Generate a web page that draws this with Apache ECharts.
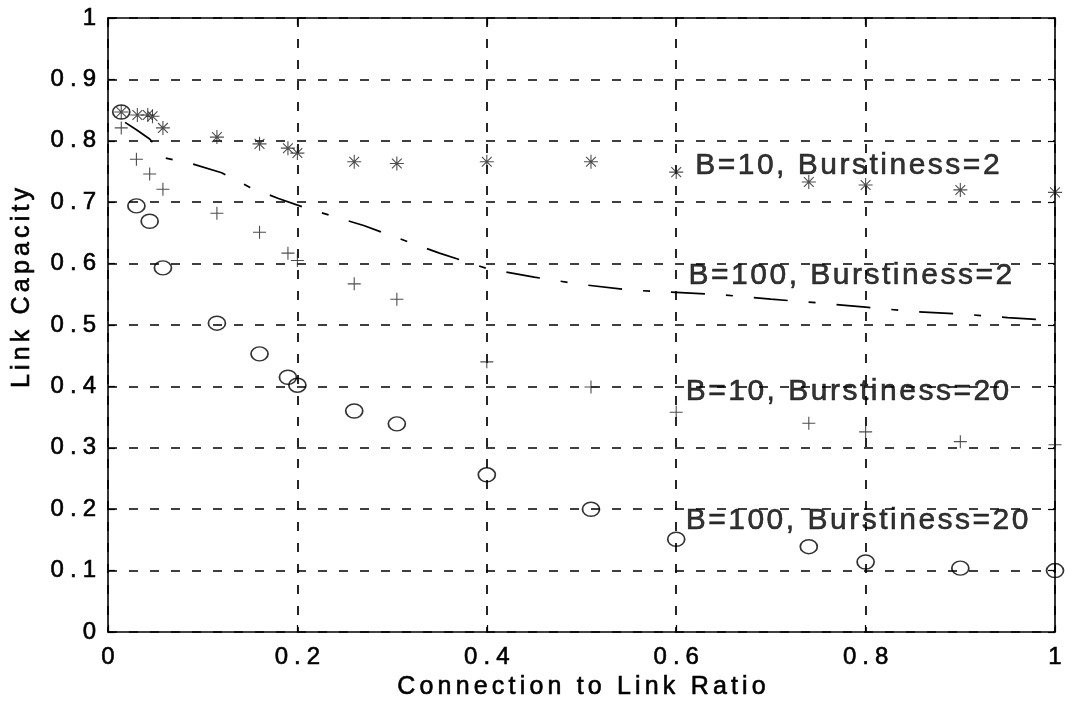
<!DOCTYPE html>
<html>
<head>
<meta charset="utf-8">
<script src="https://cdn.jsdelivr.net/npm/echarts@6/dist/echarts.min.js"></script>
<style>html,body{margin:0;padding:0;background:#fff;}#chart{width:1065px;height:710px;}</style>
</head>
<body>
<div id="chart"></div>
<script>
// ---- data ----
const xTickLabels = ['0', '0.2', '0.4', '0.6', '0.8', '1'];
const yTickLabels = ['0', '0.1', '0.2', '0.3', '0.4', '0.5', '0.6', '0.7', '0.8', '0.9', '1'];

// B=10, Burstiness=2 (asterisks)
const starX = [0.014, 0.031, 0.042, 0.047, 0.058, 0.115, 0.16, 0.19, 0.2, 0.26, 0.305, 0.4, 0.51, 0.6, 0.74, 0.8, 0.9, 1.0];
const starY = [0.847, 0.842, 0.842, 0.840, 0.821, 0.806, 0.795, 0.788, 0.780, 0.766, 0.763, 0.766, 0.766, 0.749, 0.733, 0.728, 0.720, 0.716];

// B=10, Burstiness=20 (plus)
const plusX = [0.014, 0.03, 0.044, 0.058, 0.115, 0.16, 0.19, 0.2, 0.26, 0.305, 0.4, 0.51, 0.6, 0.74, 0.8, 0.9, 1.0];
const plusY = [0.821, 0.770, 0.746, 0.721, 0.682, 0.651, 0.617, 0.605, 0.567, 0.542, 0.440, 0.399, 0.358, 0.340, 0.326, 0.310, 0.305];

// B=100, Burstiness=20 (circles)
const circX = [0.014, 0.03, 0.044, 0.058, 0.115, 0.16, 0.19, 0.2, 0.26, 0.305, 0.4, 0.51, 0.6, 0.74, 0.8, 0.9, 1.0];
const circY = [0.847, 0.694, 0.669, 0.593, 0.503, 0.453, 0.415, 0.402, 0.360, 0.339, 0.256, 0.200, 0.151, 0.139, 0.114, 0.104, 0.100];

// B=100, Burstiness=2 (dash-dot line)
const lineX = [0.018, 0.03, 0.044, 0.06, 0.09, 0.12, 0.15, 0.18, 0.21, 0.24, 0.27, 0.3, 0.35, 0.4, 0.45, 0.5, 0.55, 0.6, 0.65, 0.7, 0.75, 0.8, 0.85, 0.9, 0.95, 1.0];
const lineY = [0.830, 0.818, 0.803, 0.772, 0.762, 0.748, 0.724, 0.706, 0.690, 0.676, 0.662, 0.645, 0.617, 0.592, 0.578, 0.566, 0.557, 0.553, 0.549, 0.542, 0.536, 0.529, 0.522, 0.518, 0.512, 0.507];

// annotations
const annText = ['B=10, Burstiness=2', 'B=100, Burstiness=2', 'B=10, Burstiness=20', 'B=100, Burstiness=20'];
const annX = [0.62, 0.613, 0.61, 0.61];
const annY = [0.76, 0.581, 0.391, 0.182];

const xTitle = 'Connection to Link Ratio';
const yTitle = 'Link Capacity';

// ---- helpers ----
const HS = '\u200A';
function spaced(s, n) { return s.split('').join(HS.repeat(n)); }
function zip(a, b) { return a.map((v, i) => [v, b[i]]); }

const FONT = '"Liberation Sans", Arial, sans-serif';
const starPath = 'path://M0,-10L0,10M-10,0L10,0M-7,-7L7,7M-7,7L7,-7';
const plusPath = 'path://M0,-10L0,10M-10,0L10,0';
const ringPath = 'path://M10,0A10,10 0 1,1 -10,0A10,10 0 1,1 10,0Z';

const textBold = {textBorderColor: '#000', textBorderWidth: 0.6};

const chart = echarts.init(document.getElementById('chart'), null, {renderer: 'canvas'});

const axisCommon = {
  type: 'value', min: 0, max: 1,
  axisLine: {show: true, onZero: false, lineStyle: {color: '#000', width: 1.6}},
  axisTick: {show: true, inside: true, length: 7, lineStyle: {color: '#000', width: 1.2}},
};

const option = {
  backgroundColor: '#fff',
  animation: false,
  grid: {left: 108, right: 3, top: 18, bottom: 78, containLabel: false},
  xAxis: [
    Object.assign({}, axisCommon, {
      position: 'bottom', interval: 0.2,
      axisLabel: Object.assign({show: true, fontSize: 24, color: '#000', fontFamily: FONT, margin: 13,
        formatter: v => spaced(xTickLabels[Math.round(v / 0.2)], 3)}, textBold),
      splitLine: {show: true, lineStyle: {color: '#000', width: 1.7, type: [9, 12]}},
      name: spaced(xTitle, 2), nameLocation: 'middle', nameGap: 37,
      nameTextStyle: Object.assign({fontSize: 25, color: '#000', fontFamily: FONT}, textBold)
    }),
    Object.assign({}, axisCommon, {
      position: 'top', interval: 0.2,
      axisLabel: {show: false}, splitLine: {show: false}
    })
  ],
  yAxis: [
    Object.assign({}, axisCommon, {
      position: 'left', interval: 0.1,
      axisLabel: Object.assign({show: true, fontSize: 24, color: '#000', fontFamily: FONT, margin: 12,
        formatter: v => spaced(yTickLabels[Math.round(v / 0.1)], 3)}, textBold),
      splitLine: {show: true, lineStyle: {color: '#000', width: 1.7, type: [9, 12]}},
      name: spaced(yTitle, 2), nameLocation: 'middle', nameGap: 73,
      nameTextStyle: Object.assign({fontSize: 25, color: '#000', fontFamily: FONT, padding: [0, 0, 0, 74]}, textBold)
    }),
    Object.assign({}, axisCommon, {
      position: 'right', interval: 0.1,
      axisLabel: {show: false}, splitLine: {show: false}
    })
  ],
  series: [
    {
      name: 'B=100, Burstiness=2', type: 'line', data: zip(lineX, lineY),
      showSymbol: false, symbol: 'none',
      lineStyle: {color: '#000', width: 1.7, type: [34, 21, 7, 21]}
    },
    {
      name: 'B=10, Burstiness=2', type: 'scatter', data: zip(starX, starY),
      symbol: starPath, symbolSize: 14,
      itemStyle: {color: 'rgba(0,0,0,0)', borderColor: '#222', borderWidth: 1.1}
    },
    {
      name: 'B=10, Burstiness=20', type: 'scatter', data: zip(plusX, plusY),
      symbol: plusPath, symbolSize: 13,
      itemStyle: {color: 'rgba(0,0,0,0)', borderColor: '#222', borderWidth: 1.1}
    },
    {
      name: 'B=100, Burstiness=20', type: 'scatter', data: zip(circX, circY),
      symbol: ringPath, symbolSize: [17, 14],
      itemStyle: {color: 'rgba(0,0,0,0)', borderColor: '#000', borderWidth: 1.6}
    },
    {
      name: 'annotations', type: 'scatter', silent: true,
      data: annText.map((t, i) => ({value: [annX[i], annY[i]], name: t})),
      symbol: 'circle', symbolSize: 0,
      label: Object.assign({show: true, position: 'right', distance: 0, formatter: p => spaced(p.name, 1),
        fontSize: 30, color: '#000', fontFamily: FONT}, textBold),
      z: 10
    }
  ]
};
chart.setOption(option);
</script>
</body>
</html>
